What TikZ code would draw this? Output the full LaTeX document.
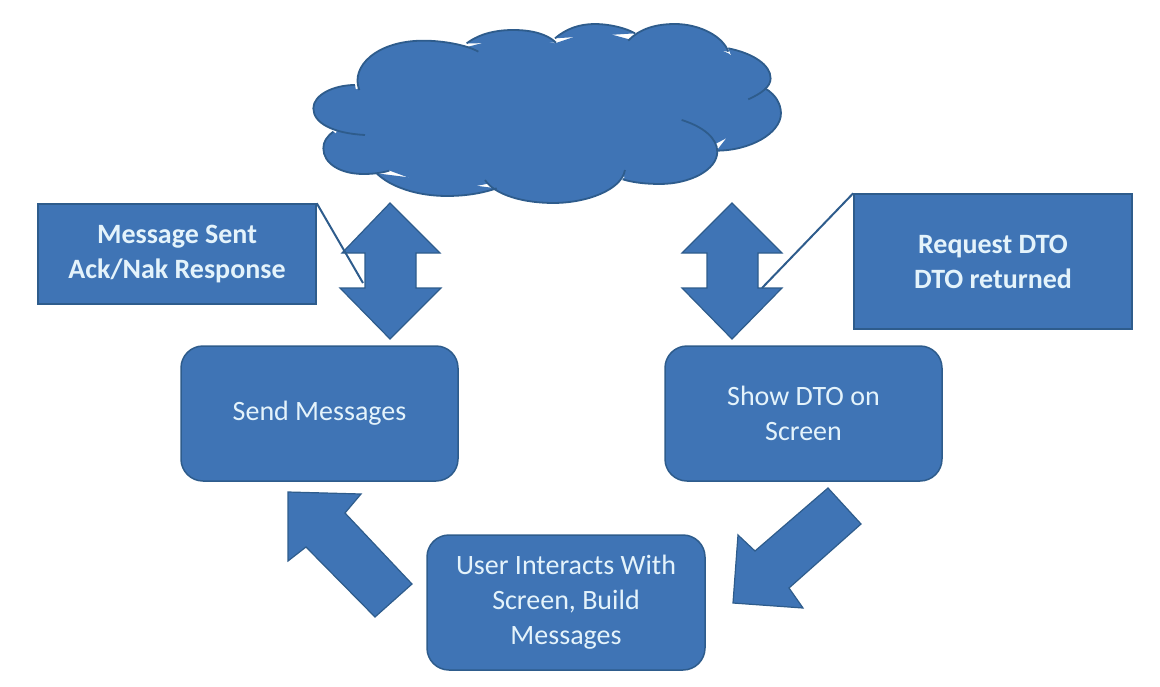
\documentclass[tikz,border=0pt]{standalone}
\usepackage{fontspec}
\setmainfont{Carlito}
\definecolor{boxfill}{HTML}{3F74B5}
\definecolor{boxline}{HTML}{2E5C8C}
\definecolor{boxtext}{HTML}{E4F3FB}
\tikzset{
  rbox/.style={draw=boxline,line width=1.5pt,fill=boxfill,rounded corners=22pt,text=boxtext,font=\fontsize{28}{35}\selectfont,align=center,inner sep=0pt,minimum width=277pt,minimum height=135pt},
  note/.style={draw=boxline,line width=1.5pt,fill=boxfill,text=boxtext,font=\fontsize{28}{35}\selectfont\bfseries,align=center,inner sep=0pt,minimum width=278pt},
  blockarrow/.style={draw=boxline,line width=1.2pt,fill=boxfill,line join=miter},
  lead/.style={draw=boxline,line width=2pt},
  cloudfill/.style={fill=boxfill},
  cloudline/.style={draw=boxline,line width=1.8pt}
}
\def\lobeA{(178,270) .. controls (150,200) and (230,122) .. (370,122) .. controls (430,122) and (500,135) .. (535,155)}
\def\lobeB{(500,130) .. controls (540,100) and (590,90) .. (640,90) .. controls (690,90) and (740,100) .. (768,128)}
\def\lobeC{(765,115) .. controls (800,85) and (840,72) .. (885,72) .. controls (930,72) and (980,85) .. (1005,100)}
\def\lobeD{(985,122) .. controls (1020,85) and (1070,72) .. (1125,72) .. controls (1200,72) and (1270,110) .. (1285,155)}
\def\lobeE{(1285,145) .. controls (1360,160) and (1412,195) .. (1412,235) .. controls (1412,260) and (1385,280) .. (1345,298)}
\def\lobeF{(1395,265) .. controls (1430,285) and (1443,315) .. (1443,340) .. controls (1443,400) and (1350,452) .. (1250,452)}
\def\lobeG{(1145,360) .. controls (1210,380) and (1252,415) .. (1252,455) .. controls (1252,510) and (1170,552) .. (1080,552) .. controls (1040,552) and (1000,548) .. (968,538)}
\def\lobeH{(975,510) .. controls (965,570) and (860,609) .. (760,609) .. controls (670,609) and (585,585) .. (555,540)}
\def\lobeI{(590,565) .. controls (540,582) and (490,588) .. (440,588) .. controls (350,588) and (270,560) .. (230,520)}
\def\lobeJ{(268,512) .. controls (240,520) and (215,522) .. (190,522) .. controls (120,522) and (70,490) .. (70,445) .. controls (70,425) and (80,410) .. (100,395)}
\def\lobeK{(195,405) .. controls (100,400) and (40,370) .. (40,325) .. controls (40,285) and (100,255) .. (165,255)}
\begin{document}
\begin{tikzpicture}[x=1pt,y=-1pt]
\useasboundingbox (0,0) rectangle (1160,686);
% cloud
\begin{scope}[shift={(300pt,0pt)},x=0.3333pt,y=-0.3333pt]
  \fill[cloudfill] (190,210) -- (370,135) -- (505,140) -- (640,105) -- (765,130) -- (885,90) -- (995,120) -- (1125,90) -- (1285,160) -- (1380,230) -- (1385,270) -- (1420,340) -- (1250,430) -- (1080,540) -- (970,530) -- (760,595) -- (570,550) -- (440,575) -- (250,505) -- (200,510) -- (90,440) -- (110,395) -- (60,325) -- (180,262) -- cycle;
  \foreach \l in {\lobeA,\lobeB,\lobeC,\lobeD,\lobeE,\lobeF,\lobeG,\lobeH,\lobeI,\lobeJ,\lobeK}
    \fill[cloudfill] \l -- cycle;
  \foreach \l in {\lobeA,\lobeB,\lobeC,\lobeD,\lobeE,\lobeF,\lobeG,\lobeH,\lobeI,\lobeJ,\lobeK}
    \draw[cloudline] \l;
\end{scope}
% double arrows
\path[blockarrow] (390,203) -- (440,253) -- (416,253) -- (416,288) -- (441,288) -- (390,339) -- (340,288) -- (365,288) -- (365,253) -- (342,253) -- cycle;
\path[blockarrow] (732,203) -- (782,253) -- (758,253) -- (758,288) -- (782,288) -- (732,339) -- (682,288) -- (707,288) -- (707,253) -- (682,253) -- cycle;
% callouts
\node[note,minimum height=100pt] (sent) at (177,254) {Message Sent\\Ack/Nak Response};
\node[note,minimum height=135pt] (dto) at (993,261.5) {Request DTO\\DTO returned};
\coordinate (sentTip) at (363,283);
\coordinate (dtoTip) at (762,288);
\draw[lead] (sent.north east) -- (sentTip);
\draw[lead] (dto.north west) -- (dtoTip);
% boxes
\node[rbox] (send) at (319.5,413.5) {Send Messages};
\node[rbox] (show) at (803.5,413.5) {Show DTO on\\Screen};
\node[rbox,minimum width=278pt] (user) at (566,602.5) {User Interacts With\\Screen, Build\\Messages};
% loop arrows
\path[blockarrow] (288,492) -- (361,494) -- (345,513) -- (412,584) -- (375,617) -- (306,547) -- (288,561) -- cycle;
\path[blockarrow] (828,488) -- (861,524) -- (789,588) -- (803,608) -- (733,603) -- (738,535) -- (755,551) -- cycle;
\end{tikzpicture}
\end{document}
